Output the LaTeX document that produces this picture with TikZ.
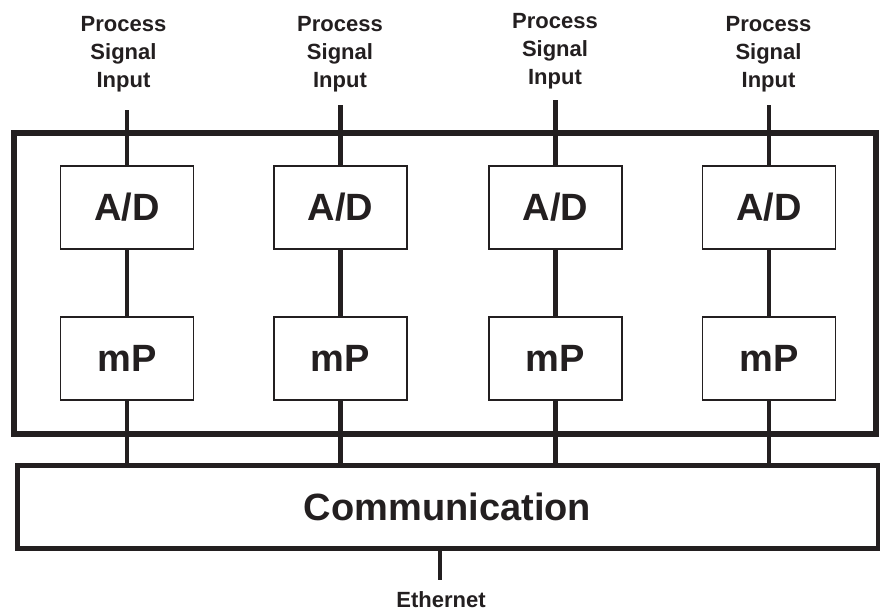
\documentclass[tikz,border=0pt]{standalone}
\usepackage{fontspec}
\setmainfont{Liberation Sans}
\definecolor{ink}{HTML}{231F20}
\begin{document}
\begin{tikzpicture}[x=1pt,y=-1pt,
  unitbox/.style={draw=ink, line width=1.5pt, fill=white, minimum width=133pt, minimum height=83pt, inner sep=0pt, text=ink, font=\fontsize{38}{40}\selectfont\bfseries},
  framebox/.style={draw=ink, line width=6pt, inner sep=0pt},
  commbox/.style={draw=ink, line width=5pt, inner sep=0pt, minimum width=861pt, minimum height=82.5pt, text=ink, font=\fontsize{38}{40}\selectfont\bfseries},
  wire/.style={draw=ink, line width=4.5pt},
  lbl/.style={text=ink, align=center, inner sep=0pt, anchor=north, font=\fontsize{22}{27.8}\selectfont\bfseries}
]
\useasboundingbox (0,0) rectangle (880,610);

% outer frame
\node[framebox, minimum width=862pt, minimum height=301pt] (frame) at (445,283.5) {};
% communication
\node[commbox] (comm) at (447.5,506.75) {Communication};

% columns
\foreach \i/\x/\ly/\sy/\lx in {1/127/16.5/110/123.5, 2/340.5/16.5/105/340, 3/555.5/13.5/100/555, 4/769/16.5/105/768.5} {
  \node[lbl] (lab\i) at (\lx,\ly) {Process\\Signal\\Input};
  \coordinate (sig\i) at (\x,\sy);
  \node[unitbox] (ad\i) at (\x,207.5) {A/D};
  \node[unitbox] (mp\i) at (\x,358.3) {mP};
  \draw[wire] (sig\i) -- (ad\i.north);
  \draw[wire] (ad\i.south) -- (mp\i.north);
  \draw[wire] (mp\i.south) -- (mp\i.south |- comm.north);
}
% redraw boxes on top of wires
\foreach \i/\x in {1/127, 2/340.5, 3/555.5, 4/769} {
  \node[unitbox] at (\x,207.5) {A/D};
  \node[unitbox] at (\x,358.3) {mP};
}

% ethernet
\coordinate (eth) at (440,580);
\draw[wire] (comm.south) ++(-7.5,0) coordinate (cs) (cs) -- (eth);
\node[text=ink, inner sep=0pt, anchor=base, font=\fontsize{22}{26}\selectfont\bfseries] (ethl) at (441,607) {Ethernet};
\end{tikzpicture}
\end{document}
